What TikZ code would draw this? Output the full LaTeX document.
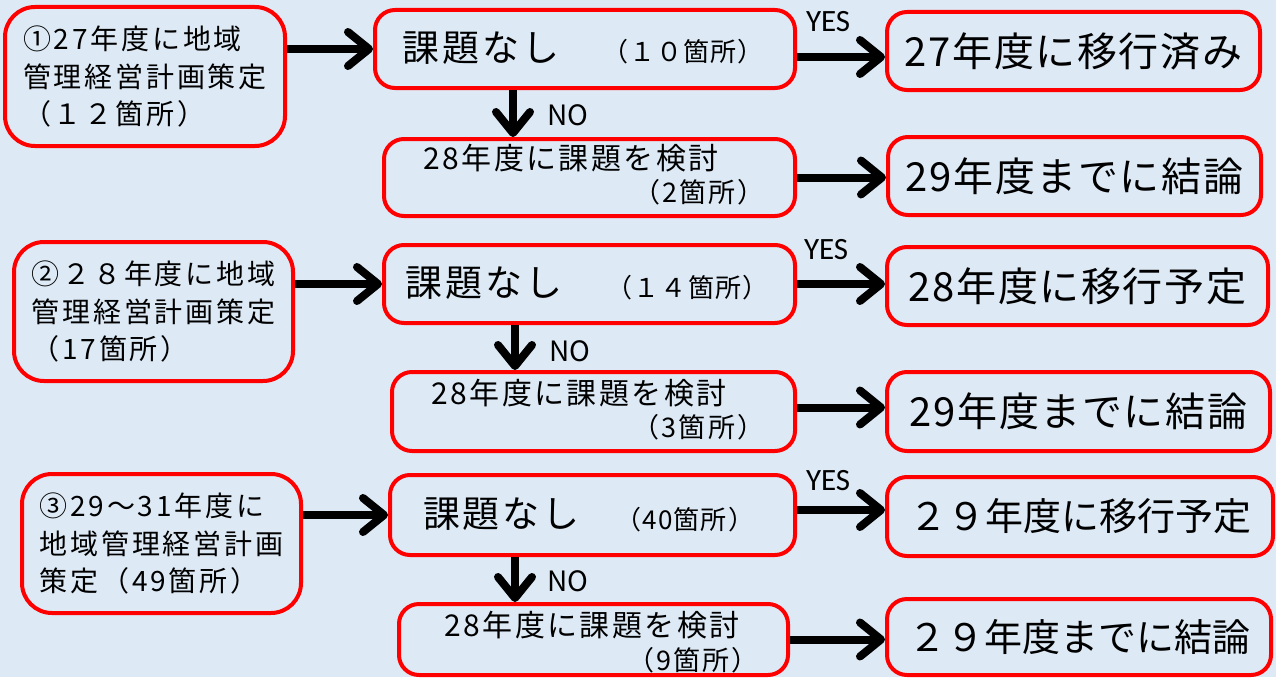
\documentclass[tikz,border=0pt]{standalone}
\usepackage{fontspec}
\setmainfont{Noto Sans CJK JP}
\newfontfamily\yesfont{Carlito}
\usetikzlibrary{arrows.meta}
\definecolor{bgblue}{RGB}{221,234,246}
\definecolor{boxred}{RGB}{255,0,0}
\newcommand\setfs[2]{\fontsize{#1}{#2}\selectfont}
\tikzset{
 box/.style={draw=boxred, line width=4pt, rounded corners=20pt, rectangle, inner sep=0pt, fill=bgblue},
 bigbox/.style={box, rounded corners=30pt, align=left, font=\setfs{28}{37.5}\addfontfeatures{LetterSpace=10}},
 resbox/.style={box, font=\setfs{40}{44}\addfontfeatures{LetterSpace=4}},
 resboxw/.style={box, font=\setfs{38}{44}},
 btext/.style={inner sep=0pt, font=\setfs{37}{40}\addfontfeatures{LetterSpace=8}},
 cnt/.style={inner sep=0pt, font=\setfs{26}{28}\addfontfeatures{LetterSpace=4}},
 ctop/.style={inner sep=0pt, font=\setfs{30}{34}\addfontfeatures{LetterSpace=8}},
 cbot/.style={inner sep=0pt, font=\setfs{27}{30}\addfontfeatures{LetterSpace=8}},
 arr/.style={line width=8pt, -{Straight Barb[length=21pt,width=34pt,round]}},
 yeslab/.style={inner sep=0pt, font=\yesfont\setfs{31}{33}, anchor=base west},
 nolab/.style={inner sep=0pt, font=\setfs{28}{30}, anchor=base west},
}
\begin{document}
\begin{tikzpicture}[x=1pt,y=-1pt]
\fill[bgblue] (0,0) rectangle (1276,677);
\useasboundingbox (0,0) rectangle (1276,677);

% ---------- Row 1 ----------
\node[bigbox, minimum width=280pt, minimum height=139pt] (a1) at (145,76.5) {①27年度に地域\\管理経営計画策定\\（１２箇所）};
\node[box, minimum width=420pt, minimum height=78pt] (b1) at (585,49) {};
\node[btext] (b1t) at (481,48) {課題なし};
\node[cnt] (b1n) at (683,52) {（１０箇所）};
\node[box, minimum width=411pt, minimum height=77pt] (c1) at (589.5,177.5) {};
\node[ctop] (c1t) at (571,158) {28年度に課題を検討};
\node[cbot] (c1n) at (699,192) {（2箇所）};
\node[resbox, minimum width=373pt, minimum height=78pt] (d1) at (1073.5,51) {27年度に移行済み};
\node[resbox, minimum width=373pt, minimum height=78pt] (e1) at (1074.5,176) {29年度までに結論};
\coordinate (n1) at (513,0);
\draw[arr] (a1.east |- b1.west) -- (b1.west);
\draw[arr] (b1.south -| n1) -- (c1.north -| n1) node[nolab, midway, xshift=30pt, yshift=-12pt] {NO};
\draw[arr] ([yshift=-8pt]b1.east) -- ([yshift=-8pt]b1.east -| d1.west) node[yeslab, pos=0, xshift=5pt, yshift=25pt] {YES};
\draw[arr] (c1.east) -- (c1.east -| e1.west);

% ---------- Row 2 ----------
\node[bigbox, minimum width=279pt, minimum height=139pt] (a2) at (153.5,311.5) {②２８年度に地域\\管理経営計画策定\\（17箇所）};
\node[box, minimum width=411pt, minimum height=78pt] (b2) at (589.5,284) {};
\node[btext] (b2t) at (484,283.5) {課題なし};
\node[cnt] (b2n) at (687.5,288) {（１４箇所）};
\node[box, minimum width=403pt, minimum height=79pt] (c2) at (593.5,411.5) {};
\node[ctop] (c2t) at (579,393) {28年度に課題を検討};
\node[cbot] (c2n) at (698.5,427) {（3箇所）};
\node[resbox, minimum width=381pt, minimum height=78pt] (d2) at (1077.5,286) {28年度に移行予定};
\node[resbox, minimum width=383pt, minimum height=79pt] (e2) at (1078.5,411.5) {29年度までに結論};
\coordinate (n2) at (515,0);
\draw[arr] (a2.east |- b2.west) -- (b2.west);
\draw[arr] (b2.south -| n2) -- (c2.north -| n2) node[nolab, midway, xshift=30pt, yshift=-14pt] {NO};
\draw[arr] (b2.east) -- (b2.east -| d2.west) node[yeslab, pos=0, xshift=3pt, yshift=25pt] {YES};
\draw[arr] ([yshift=4pt]c2.east) -- ([yshift=4pt]c2.east -| e2.west);

% ---------- Row 3 ----------
\node[bigbox, minimum width=279pt, minimum height=139pt] (a3) at (161.5,543.5) {③29～31年度に\\地域管理経営計画\\策定（49箇所）};
\node[box, minimum width=405pt, minimum height=80pt] (b3) at (592.5,515) {};
\node[btext] (b3t) at (501.5,514.5) {課題なし};
\node[cnt] (b3n) at (685,520) {（40箇所）};
\node[box, minimum width=389pt, minimum height=71pt] (c3) at (593.5,639.5) {};
\node[ctop] (c3t) at (592,625) {28年度に課題を検討};
\node[cbot] (c3n) at (693,660) {（9箇所）};
\node[resboxw, minimum width=386pt, minimum height=79pt] (d3) at (1080,516.5) {２９年度に移行予定};
\node[resboxw, minimum width=384pt, minimum height=76pt] (e3) at (1079,637) {２９年度までに結論};
\coordinate (n3) at (515,0);
\draw[arr] (a3.east |- b3.west) -- (b3.west);
\draw[arr] (b3.south -| n3) -- (c3.north -| n3) node[nolab, midway, xshift=28pt, yshift=-12pt] {NO};
\draw[arr] ([yshift=5pt]b3.east) -- ([yshift=5pt]b3.east -| d3.west) node[yeslab, pos=0, xshift=5pt, yshift=20pt] {YES};
\draw[arr] (c3.east) -- (c3.east -| e3.west);
\end{tikzpicture}
\end{document}
